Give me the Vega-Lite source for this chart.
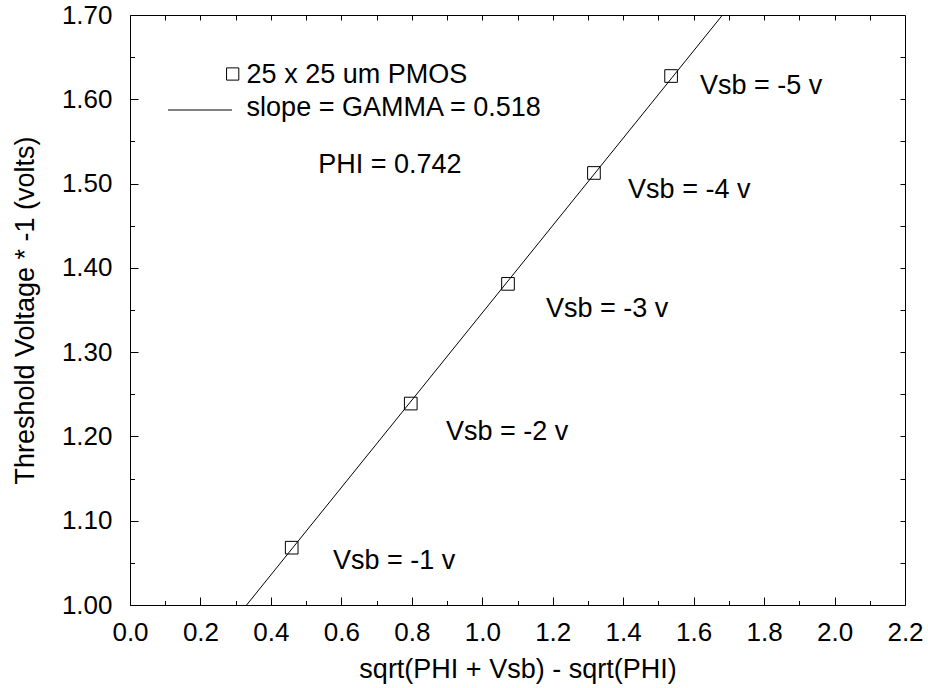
{
  "$schema": "https://vega.github.io/schema/vega-lite/v6.json",
  "width": 775,
  "height": 590,
  "autosize": "none",
  "padding": {"left": 130, "top": 15, "right": 23, "bottom": 83},
  "background": "white",
  "config": {
    "view": {"stroke": "black", "strokeWidth": 1},
    "font": "Liberation Sans",
    "axis": {"grid": false, "domain": false, "tickColor": "black", "labelColor": "black", "titleColor": "black", "labelFont": "Liberation Sans", "titleFont": "Liberation Sans", "labelFontSize": 26, "titleFontSize": 27, "titleFontWeight": "normal", "tickWidth": 1}
  },
  "datasets": {
    "fit": [{"x": 0.331, "y": 1.0}, {"x": 1.682, "y": 1.7}],
    "pts": [
      {"x": 0.459, "y": 1.068},
      {"x": 0.797, "y": 1.239},
      {"x": 1.073, "y": 1.381},
      {"x": 1.317, "y": 1.5126},
      {"x": 1.536, "y": 1.6276}
    ],
    "notes": [
      {"x": 0.576, "y": 1.0522, "label": "Vsb = -1 v"},
      {"x": 0.897, "y": 1.2053, "label": "Vsb = -2 v"},
      {"x": 1.181, "y": 1.351, "label": "Vsb = -3 v"},
      {"x": 1.414, "y": 1.492, "label": "Vsb = -4 v"},
      {"x": 1.618, "y": 1.6158, "label": "Vsb = -5 v"},
      {"x": 0.5345, "y": 1.522, "label": "PHI = 0.742"},
      {"x": 0.331, "y": 1.6288, "label": "25 x 25 um PMOS"},
      {"x": 0.331, "y": 1.5897, "label": "slope = GAMMA = 0.518"}
    ],
    "legline": [{"x": 0.1079, "y": 1.5873}, {"x": 0.2896, "y": 1.5873}],
    "legpt": [{"x": 0.2915, "y": 1.63}]
  },
  "layer": [
    {
      "data": {"name": "fit"},
      "mark": {"type": "line", "color": "black", "strokeWidth": 1, "clip": true},
      "encoding": {
        "x": {"field": "x", "type": "quantitative", "scale": {"domain": [0, 2.2], "nice": false, "zero": false},
          "axis": {"orient": "bottom", "values": [0, 0.2, 0.4, 0.6, 0.8, 1.0, 1.2, 1.4, 1.6, 1.8, 2.0, 2.2], "format": ".1f", "tickSize": -8, "labelPadding": 22, "title": "sqrt(PHI + Vsb) - sqrt(PHI)", "titlePadding": 11, "labelFlush": false}},
        "y": {"field": "y", "type": "quantitative", "scale": {"domain": [1.0, 1.7], "nice": false, "zero": false},
          "axis": {"orient": "left", "values": [1.0, 1.1, 1.2, 1.3, 1.4, 1.5, 1.6, 1.7], "format": ".2f", "tickSize": -8, "labelPadding": 26, "title": "Threshold Voltage * -1 (volts)", "titlePadding": 22, "labelFlush": false}}
      }
    },
    {
      "data": {"name": "pts"},
      "mark": {"type": "point", "shape": "square", "filled": false, "color": "black", "strokeWidth": 1, "size": 160, "opacity": 1},
      "encoding": {
        "x": {"field": "x", "type": "quantitative",
          "axis": {"orient": "bottom", "values": [0.1, 0.3, 0.5, 0.7, 0.9, 1.1, 1.3, 1.5, 1.7, 1.9, 2.1], "tickSize": -4.5, "labels": false, "title": null}},
        "y": {"field": "y", "type": "quantitative",
          "axis": {"orient": "left", "values": [1.05, 1.15, 1.25, 1.35, 1.45, 1.55, 1.65], "tickSize": -4.5, "labels": false, "title": null}}
      }
    },
    {
      "data": {"name": "notes"},
      "mark": {"type": "text", "align": "left", "baseline": "middle", "fontSize": 27, "font": "Liberation Sans", "color": "black"},
      "encoding": {
        "x": {"field": "x", "type": "quantitative",
          "axis": {"orient": "top", "values": [0.1, 0.2, 0.3, 0.4, 0.5, 0.6, 0.7, 0.8, 0.9, 1.0, 1.1, 1.2, 1.3, 1.4, 1.5, 1.6, 1.7, 1.8, 1.9, 2.0, 2.1], "tickSize": -5, "labels": false, "title": null}},
        "y": {"field": "y", "type": "quantitative",
          "axis": {"orient": "right", "values": [1.05, 1.1, 1.15, 1.2, 1.25, 1.3, 1.35, 1.4, 1.45, 1.5, 1.55, 1.6, 1.65], "tickSize": -5, "labels": false, "title": null}},
        "text": {"field": "label"}
      }
    },
    {
      "data": {"name": "legline"},
      "mark": {"type": "line", "color": "black", "strokeWidth": 1},
      "encoding": {
        "x": {"field": "x", "type": "quantitative", "axis": null},
        "y": {"field": "y", "type": "quantitative", "axis": null}
      }
    },
    {
      "data": {"name": "legpt"},
      "mark": {"type": "point", "shape": "square", "filled": false, "color": "black", "strokeWidth": 1, "size": 150, "opacity": 1},
      "encoding": {
        "x": {"field": "x", "type": "quantitative", "axis": null},
        "y": {"field": "y", "type": "quantitative", "axis": null}
      }
    }
  ],
  "resolve": {"axis": {"x": "independent", "y": "independent"}}
}
